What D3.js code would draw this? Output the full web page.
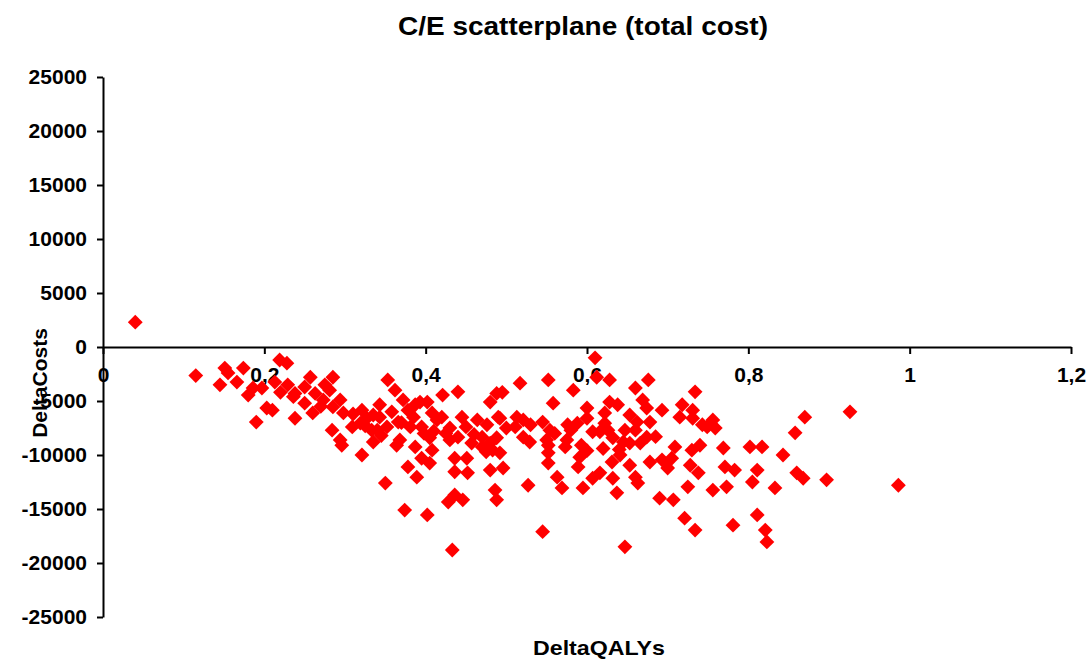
<!DOCTYPE html>
<html>
<head>
<meta charset="utf-8">
<script src="https://cdn.jsdelivr.net/npm/d3@7"></script>
<style>
  body { margin: 0; background: #fff; }
  text { font-family: Arial, "Liberation Sans", sans-serif; font-weight: bold; fill: #000; }
</style>
</head>
<body>
<script>
// values
const deltaQalys = [
  0.04, 0.115, 0.151, 0.145, 0.166, 0.174, 0.155, 0.18, 0.19, 0.203,
  0.21, 0.219, 0.228, 0.197, 0.229, 0.236, 0.238, 0.213, 0.186, 0.257,
  0.238, 0.25, 0.263, 0.26, 0.275, 0.285, 0.281, 0.273, 0.285, 0.294,
  0.298, 0.284, 0.294, 0.309, 0.321, 0.327, 0.333, 0.319, 0.343, 0.343,
  0.34, 0.353, 0.362, 0.352, 0.366, 0.372, 0.378, 0.387, 0.393, 0.402,
  0.381, 0.395, 0.408, 0.414, 0.42, 0.421, 0.44, 0.43, 0.445, 0.44,
  0.368, 0.405, 0.464, 0.476, 0.48, 0.488, 0.47, 0.48, 0.49, 0.296,
  0.321, 0.335, 0.35, 0.364, 0.387, 0.378, 0.389, 0.395, 0.405, 0.408,
  0.374, 0.402, 0.433, 0.428, 0.436, 0.446, 0.436, 0.436, 0.451, 0.452,
  0.43, 0.457, 0.47, 0.48, 0.483, 0.486, 0.488, 0.61, 0.612, 0.628,
  0.552, 0.517, 0.495, 0.583, 0.558, 0.6, 0.66, 0.676, 0.669, 0.674,
  0.693, 0.718, 0.731, 0.734, 0.628, 0.638, 0.622, 0.653, 0.492, 0.513,
  0.521, 0.511, 0.545, 0.554, 0.576, 0.588, 0.6, 0.622, 0.626, 0.607,
  0.616, 0.647, 0.662, 0.678, 0.674, 0.645, 0.632, 0.715, 0.731, 0.488,
  0.521, 0.529, 0.55, 0.575, 0.492, 0.496, 0.527, 0.552, 0.552, 0.552,
  0.563, 0.569, 0.573, 0.593, 0.591, 0.589, 0.595, 0.607, 0.616, 0.631,
  0.641, 0.632, 0.637, 0.653, 0.66, 0.663, 0.653, 0.666, 0.545, 0.647,
  0.678, 0.693, 0.705, 0.709, 0.73, 0.728, 0.69, 0.707, 0.725, 0.721,
  0.734, 0.743, 0.756, 0.759, 0.749, 0.87, 0.858, 0.926, 0.74, 0.769,
  0.802, 0.817, 0.843, 0.738, 0.771, 0.783, 0.811, 0.805, 0.756, 0.773,
  0.833, 0.86, 0.868, 0.897, 0.986, 0.811, 0.781, 0.821, 0.823,
  0.31, 0.325, 0.335, 0.345, 0.358, 0.37, 0.385, 0.398, 0.41, 0.425,
  0.45, 0.46, 0.475, 0.5, 0.53, 0.56, 0.58, 0.6, 0.62, 0.64,
  0.66, 0.685, 0.7, 0.27, 0.25, 0.22
]
const deltaCosts = [
  2300, -2650, -1950, -3500, -3250, -1950, -2400, -4450, -6950, -5650,
  -5850, -1200, -1500, -3800, -3500, -4600, -6600, -3250, -3800, -2800,
  -4300, -3700, -4300, -6100, -3500, -2800, -4000, -4900, -5550, -4900,
  -6100, -7700, -8600, -7400, -5850, -6600, -7700, -7050, -5350, -6500,
  -7700, -3050, -4000, -7400, -6950, -4900, -5850, -5350, -5100, -5100,
  -7400, -7400, -6100, -6750, -6500, -4450, -4150, -7500, -6500, -8350,
  -8600, -8400, -6750, -7200, -5100, -4300, -8350, -8900, -6500, -9100,
  -10000, -8800, -12600, -9100, -9250, -11100, -12050, -10300, -10750, -9550,
  -15100, -15550, -18800, -14350, -13700, -14150, -10300, -11550, -10300, -11650,
  -8600, -8900, -9250, -11400, -9550, -13250, -14150, -1000, -2800, -3050,
  -3050, -3350, -4200, -4000, -5200, -5650, -3800, -3050, -4900, -5650,
  -5850, -5350, -5850, -4150, -5100, -5350, -6100, -6300, -6600, -6500,
  -6750, -7400, -6950, -7700, -7200, -7050, -6600, -7050, -7700, -7850,
  -7850, -7700, -6950, -6950, -8350, -8800, -8400, -6500, -6600, -8400,
  -8350, -8800, -8600, -8600, -9800, -11200, -12800, -9100, -9800, -10750,
  -12050, -13050, -9250, -9100, -10200, -11100, -13050, -12150, -11650, -10650,
  -10000, -12150, -13500, -10950, -12050, -12600, -8900, -8900, -17100, -18500,
  -10650, -10450, -10300, -9250, -9550, -10950, -14000, -14150, -12950, -15850,
  -16950, -7200, -6750, -7500, -7400, -6500, -7950, -6000, -9100, -9350,
  -9250, -9250, -10000, -11650, -11100, -11400, -11400, -12500, -13250, -12950,
  -13050, -11650, -12150, -12300, -12800, -15550, -16500, -16950, -18050,
  -6200, -7300, -6300, -8200, -6000, -7000, -6500, -8000, -7800, -8000,
  -7400, -8100, -9700, -7500, -7200, -8000, -7700, -9600, -9400, -9500,
  -7700, -8300, -11200, -5500, -5200, -4200
]
const xTicks = [0, 0.2, 0.4, 0.6, 0.8, 1, 1.2]
const yTicks = [-25000, -20000, -15000, -10000, -5000, 0, 5000, 10000, 15000, 20000, 25000]

const width = 1090
const height = 662

const svg = d3.select(document.body).append('svg')
  .attr('width', width)
  .attr('height', height)
  .attr('xmlns', 'http://www.w3.org/2000/svg')

svg.append('rect')
  .attr('width', width)
  .attr('height', height)
  .attr('fill', '#fff')

const x = d3.scaleLinear().domain([0, 1.2]).range([103, 1071])
const y = d3.scaleLinear().domain([-25000, 25000]).range([617, 77])

const commaFmt = d => String(d).replace('.', ',')

// y axis on the left edge of the plot
const yAxis = svg.append('g')
  .attr('transform', `translate(${x(0)},0)`)
  .call(d3.axisLeft(y).tickValues(yTicks).tickSize(6).tickSizeOuter(0).tickPadding(10).tickFormat(d => d))
yAxis.selectAll('text').style('font-size', '21px').attr('fill', '#000')

// x axis crosses at zero cost
const xAxis = svg.append('g')
  .attr('transform', `translate(0,${y(0)})`)
  .call(d3.axisBottom(x).tickValues(xTicks).tickSize(7).tickSizeOuter(0).tickPadding(13).tickFormat(commaFmt))
xAxis.selectAll('text').style('font-size', '21px').attr('fill', '#000')

svg.selectAll('.domain, .tick line')
  .attr('stroke', '#000')
  .attr('stroke-width', 2)

// points, drawn as squares turned 45 degrees
const diamond = d3.symbol().type(d3.symbolSquare).size(110)
svg.append('g')
  .selectAll('path')
  .data(deltaQalys.map((q, i) => [q, deltaCosts[i]]))
  .join('path')
  .attr('d', diamond)
  .attr('transform', d => `translate(${x(d[0])},${y(d[1])}) rotate(45)`)
  .attr('fill', '#ff0000')

// titles
svg.append('text')
  .attr('x', 583)
  .attr('y', 35)
  .attr('text-anchor', 'middle')
  .attr('textLength', 370)
  .attr('lengthAdjust', 'spacingAndGlyphs')
  .style('font-size', '25px')
  .text('C/E scatterplane (total cost)')

svg.append('text')
  .attr('x', 599)
  .attr('y', 655)
  .attr('text-anchor', 'middle')
  .attr('textLength', 132)
  .attr('lengthAdjust', 'spacingAndGlyphs')
  .style('font-size', '21px')
  .text('DeltaQALYs')

svg.append('text')
  .attr('transform', 'translate(47,383) rotate(-90)')
  .attr('text-anchor', 'middle')
  .style('font-size', '21px')
  .text('DeltaCosts')
</script>
</body>
</html>
